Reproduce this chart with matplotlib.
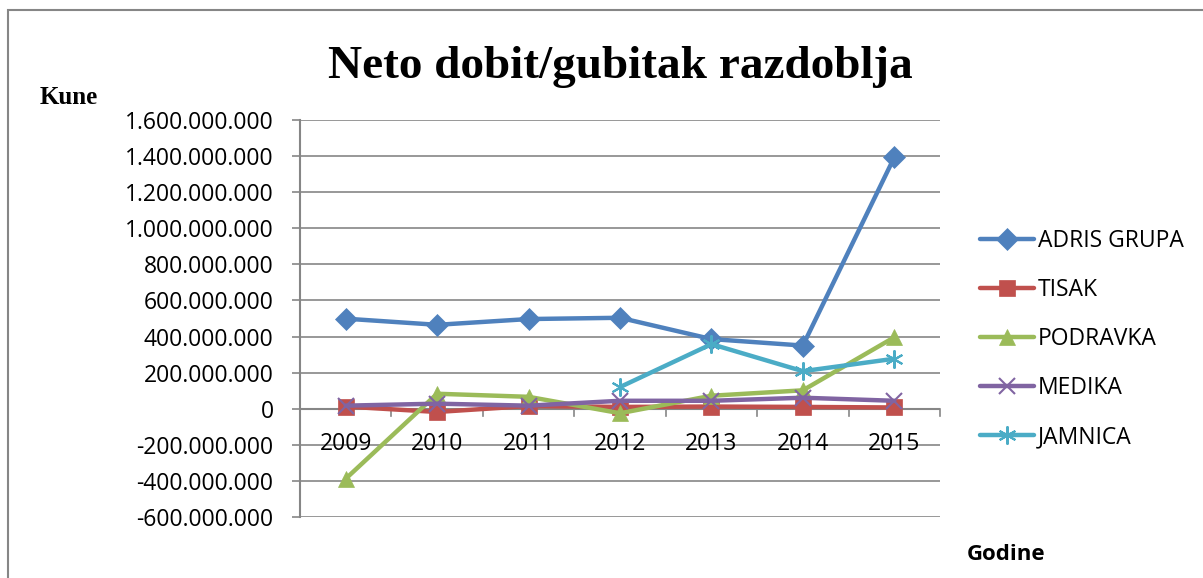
import numpy as np
import matplotlib.pyplot as plt
from matplotlib.patches import Rectangle

years = ["2009", "2010", "2011", "2012", "2013", "2014", "2015"]
adris = [499e6, 465e6, 497e6, 504e6, 386e6, 350e6, 1393e6]
tisak = [12e6, -18e6, 15e6, 10e6, 12e6, 10e6, 7e6]
podravka = [-388e6, 83e6, 66e6, -25e6, 72e6, 102e6, 396e6]
medika = [17e6, 28e6, 17e6, 44e6, 44e6, 61e6, 44e6]
jamnica = [np.nan, np.nan, np.nan, 120e6, 358e6, 208e6, 277e6]

series = [
    ("ADRIS GRUPA", adris, "#4F81BD", "D", 11),
    ("TISAK", tisak, "#C0504D", "s", 11),
    ("PODRAVKA", podravka, "#9BBB59", "^", 12),
    ("MEDIKA", medika, "#8064A2", "x", 11),
    ("JAMNICA", jamnica, "#4BACC6", (6, 2, 0), 13),
]

fs = 16.5
fig = plt.figure(figsize=(12.03, 5.78), dpi=100)
ax = fig.add_axes([300 / 1203, 1 - 517 / 578, 640 / 1203, 397 / 578])

x = np.arange(len(years))
for name, vals, col, mk, ms in series:
    ax.plot(x, vals, color=col, lw=3.2, marker=mk, markersize=ms,
            markeredgewidth=1.5 if mk in ("x", (6, 2, 0)) else 0.5,
            markeredgecolor=col, markerfacecolor=col, label=name,
            solid_capstyle="round", zorder=3)

ax.set_xlim(-0.5, 6.5)
ax.set_ylim(-6e8, 1.6e9)
yt = np.arange(-6e8, 1.61e9, 2e8)
ax.set_yticks(yt)
ax.set_yticklabels([f"{int(v):,}".replace(",", ".") for v in yt],
                   fontsize=fs, family="Open Sans")
ax.grid(axis="y", color="#868686", lw=1.2)
ax.set_axisbelow(True)

for s in ["top", "right", "bottom"]:
    ax.spines[s].set_visible(False)
ax.spines["left"].set_color("#868686")
ax.spines["left"].set_linewidth(1.5)
ax.tick_params(axis="y", length=6, color="#868686", width=1.2, pad=13)

# category axis at zero
ax.axhline(0, color="#868686", lw=1.5, zorder=2)
ax.set_xticks([])
for b in np.arange(-0.5, 7, 1):
    ax.plot([b, b], [0, -4.2e7], color="#868686", lw=1.2, zorder=2, clip_on=False)
for i, yr in enumerate(years):
    ax.text(i, -1.94e8, yr, ha="center", va="center", fontsize=fs, family="Open Sans")

ax.legend(loc="center left", bbox_to_anchor=(959 / 1203, 1 - 339 / 578),
          bbox_transform=fig.transFigure, frameon=False,
          prop={"family": "Open Sans", "size": fs}, handlelength=2.37,
          labelspacing=1.09, handletextpad=0.17)

fig.text(620 / 1203, 1 - 67 / 578, "Neto dobit/gubitak razdoblja", ha="center", va="center",
         fontsize=34, fontweight="bold", family="Liberation Serif")
fig.text(40 / 1203, 1 - 97 / 578, "Kune", ha="left", va="center",
         fontsize=18, fontweight="bold", family="Liberation Serif")
fig.text(967 / 1203, 1 - 555 / 578, "Godine", ha="left", va="center",
         fontsize=16, fontweight="bold", family="Open Sans")

fig.patches.append(Rectangle((8 / 1203, -0.1), 1.2, 1 - 10 / 578 + 0.1, transform=fig.transFigure,
                             fill=False, edgecolor="#868686", lw=1.5))

fig.savefig("out.png", dpi=100)
